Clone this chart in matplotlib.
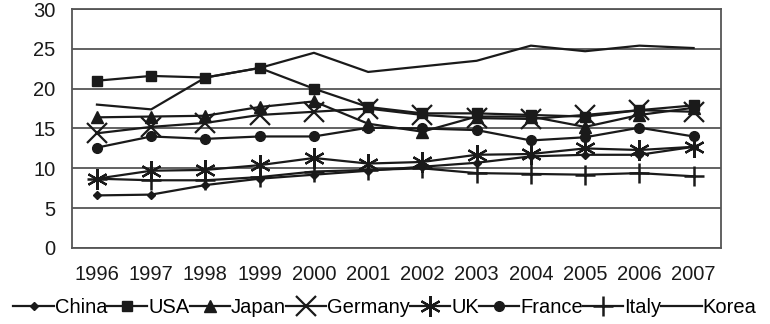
import numpy as np
import matplotlib
matplotlib.use("Agg")
import matplotlib.pyplot as plt

years = list(range(1996, 2008))

china = [6.6, 6.7, 7.9, 8.7, 9.2, 9.7, 10.2, 10.7, 11.5, 11.7, 11.7, 12.7]
usa = [21.0, 21.6, 21.4, 22.6, 20.0, 17.7, 16.9, 16.9, 16.7, 16.5, 17.3, 17.9]
japan = [16.4, 16.5, 16.6, 17.7, 18.4, 15.6, 14.6, 16.5, 16.5, 15.2, 16.7, 17.6]
germany = [14.4, 15.2, 15.7, 16.7, 17.1, 17.5, 16.7, 16.3, 16.2, 16.7, 17.3, 17.1]
uk = [8.7, 9.7, 9.8, 10.4, 11.3, 10.6, 10.8, 11.7, 11.8, 12.5, 12.3, 12.7]
france = [12.6, 14.0, 13.7, 14.0, 14.0, 15.1, 15.0, 14.8, 13.5, 13.9, 15.1, 14.0]
italy = [8.7, 8.5, 8.5, 8.9, 9.6, 9.8, 10.0, 9.4, 9.3, 9.2, 9.4, 9.0]
korea = [18.0, 17.4, 21.4, 22.6, 24.5, 22.1, 22.8, 23.5, 25.4, 24.7, 25.4, 25.1]

plt.rcParams['font.family'] = ['Liberation Sans', 'DejaVu Sans']

fig = plt.figure(figsize=(7.7, 3.24), dpi=100)
ax = fig.add_axes([0.0935, 0.2346, 0.8425, 0.7376])

c = '#1a1a1a'
lw = 1.6
ax.plot(years, china, color=c, lw=lw, marker='D', ms=4, label='China')
ax.plot(years, usa, color=c, lw=lw, marker='s', ms=7.5, label='USA')
ax.plot(years, japan, color=c, lw=lw, marker='^', ms=9, label='Japan')
ax.plot(years, germany, color=c, lw=lw, marker='x', ms=15, mew=1.6, label='Germany')
ax.plot(years, uk, color=c, lw=lw, marker=(6, 2, 0), ms=15, mew=1.6, label='UK')
ax.plot(years, france, color=c, lw=lw, marker='o', ms=7, label='France')
ax.plot(years, italy, color=c, lw=lw, marker='+', ms=14, mew=1.8, label='Italy')
ax.plot(years, korea, color=c, lw=lw, label='Korea')

ax.set_xlim(1995.54, 2007.5)
ax.set_ylim(0, 30)
ax.set_yticks(range(0, 31, 5))
ax.set_xticks(years)
ax.yaxis.grid(True, color='#555555', lw=1.3)
ax.set_axisbelow(True)
for s in ax.spines.values():
    s.set_color('#555555')
    s.set_linewidth(1.3)
ax.tick_params(length=0, labelsize=14.5, colors='#1a1a1a')
ax.tick_params(axis='x', pad=12)
ax.tick_params(axis='y', pad=12)

fig.legend(loc='center', bbox_to_anchor=(0.5, 0.05), ncol=8, frameon=False,
           fontsize=14.5, handlelength=2.0, handletextpad=0.05, columnspacing=0.0,
           borderaxespad=0, borderpad=0)

fig.savefig('out.png', dpi=100)
